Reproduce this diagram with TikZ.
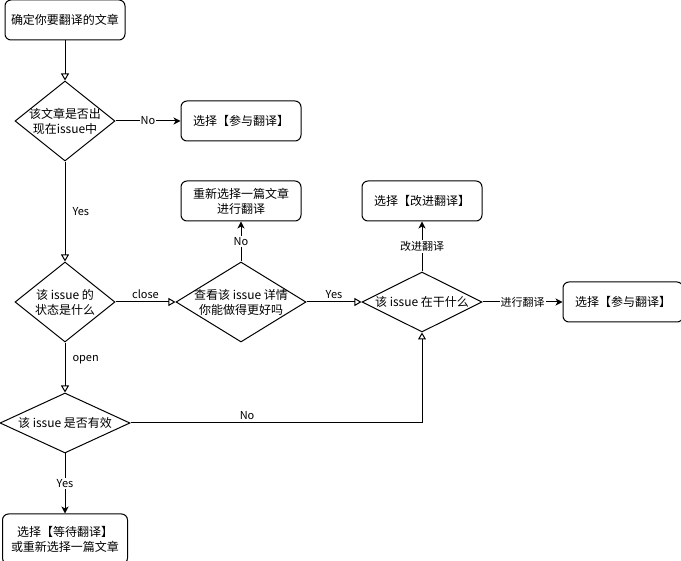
\documentclass[tikz,border=0pt]{standalone}
\usepackage{fontspec}
\setmainfont{Noto Sans CJK SC}
\usetikzlibrary{shapes.geometric, arrows.meta, positioning}

\begin{document}
\begin{tikzpicture}[
    x=1pt, y=-1pt,
    line width=1pt,
    box/.style={rectangle, draw, rounded corners=6pt, minimum width=120pt, minimum height=40pt, align=center, font=\fontsize{12}{15}\selectfont, inner sep=2pt},
    decision/.style={diamond, draw, inner sep=0pt},
    dtext/.style={align=center, font=\fontsize{12}{15}\selectfont},
    flow/.style={-{Triangle[open, length=7pt, width=8pt]}},
    pick/.style={-{Stealth[length=7pt, width=7pt, inset=2pt]}},
    tag/.style={font=\fontsize{11}{13}\selectfont, fill=white, inner sep=1pt},
    side/.style={font=\fontsize{11}{13}\selectfont, inner sep=3pt}
]
    \useasboundingbox (0,0) rectangle (681,561);

    % Start and first check
    \node[box] (start) at (65,20) {确定你要翻译的文章};
    \node[decision, minimum width=100pt, minimum height=80pt, below=40pt of start] (q1) {};
    \node[dtext] (q1t) at (q1) {该文章是否出\\现在issue中};
    \node[box, right=65pt of q1] (join1) {选择【参与翻译】};

    % Issue state
    \node[decision, minimum width=100pt, minimum height=80pt, below=100pt of q1] (q2) {};
    \node[dtext] (q2t) at (q2) {该 issue 的\\状态是什么};
    \node[decision, minimum width=130pt, minimum height=80pt, right=60pt of q2] (q3) {};
    \node[dtext] (q3t) at (q3) {查看该 issue 详情\\你能做得更好吗};
    \node[box, above=40pt of q3] (redo) {重新选择一篇文章\\进行翻译};

    % What the issue is doing
    \node[decision, minimum width=120pt, minimum height=60pt, right=55pt of q3] (q4) {};
    \node[dtext] (q4t) at (q4) {该 issue 在干什么};
    \node[box, above=50pt of q4] (improve) {选择【改进翻译】};
    \node[box, right=80pt of q4] (join2) {选择【参与翻译】};

    % Open issue
    \node[decision, minimum width=130pt, minimum height=60pt, below=50pt of q2] (q5) {};
    \node[dtext] (q5t) at (q5) {该 issue 是否有效};
    \node[box, minimum width=125pt, minimum height=50pt, below=60pt of q5] (wait) {选择【等待翻译】\\或重新选择一篇文章};

    % Arrows
    \draw[flow] (start) -- (q1);
    \draw[pick] (q1) -- node[tag] {No} (join1);
    \draw[flow] (q1) -- node[side, right, xshift=4pt] {Yes} (q2);
    \draw[flow] (q2) -- node[side, above] {close} (q3);
    \draw[pick] (q3) -- node[tag] {No} (redo);
    \draw[flow] (q3) -- node[side, above] {Yes} (q4);
    \draw[pick] (q4) -- node[tag] {改进翻译} (improve);
    \draw[pick] (q4) -- node[tag] {进行翻译} (join2);
    \draw[flow] (q2) -- node[side, right, pos=0.35, xshift=4pt] {open} (q5);
    \draw[flow] (q5) -| node[side, above, pos=0.2] {No} (q4);
    \draw[pick] (q5) -- node[tag] {Yes} (wait);
\end{tikzpicture}
\end{document}
